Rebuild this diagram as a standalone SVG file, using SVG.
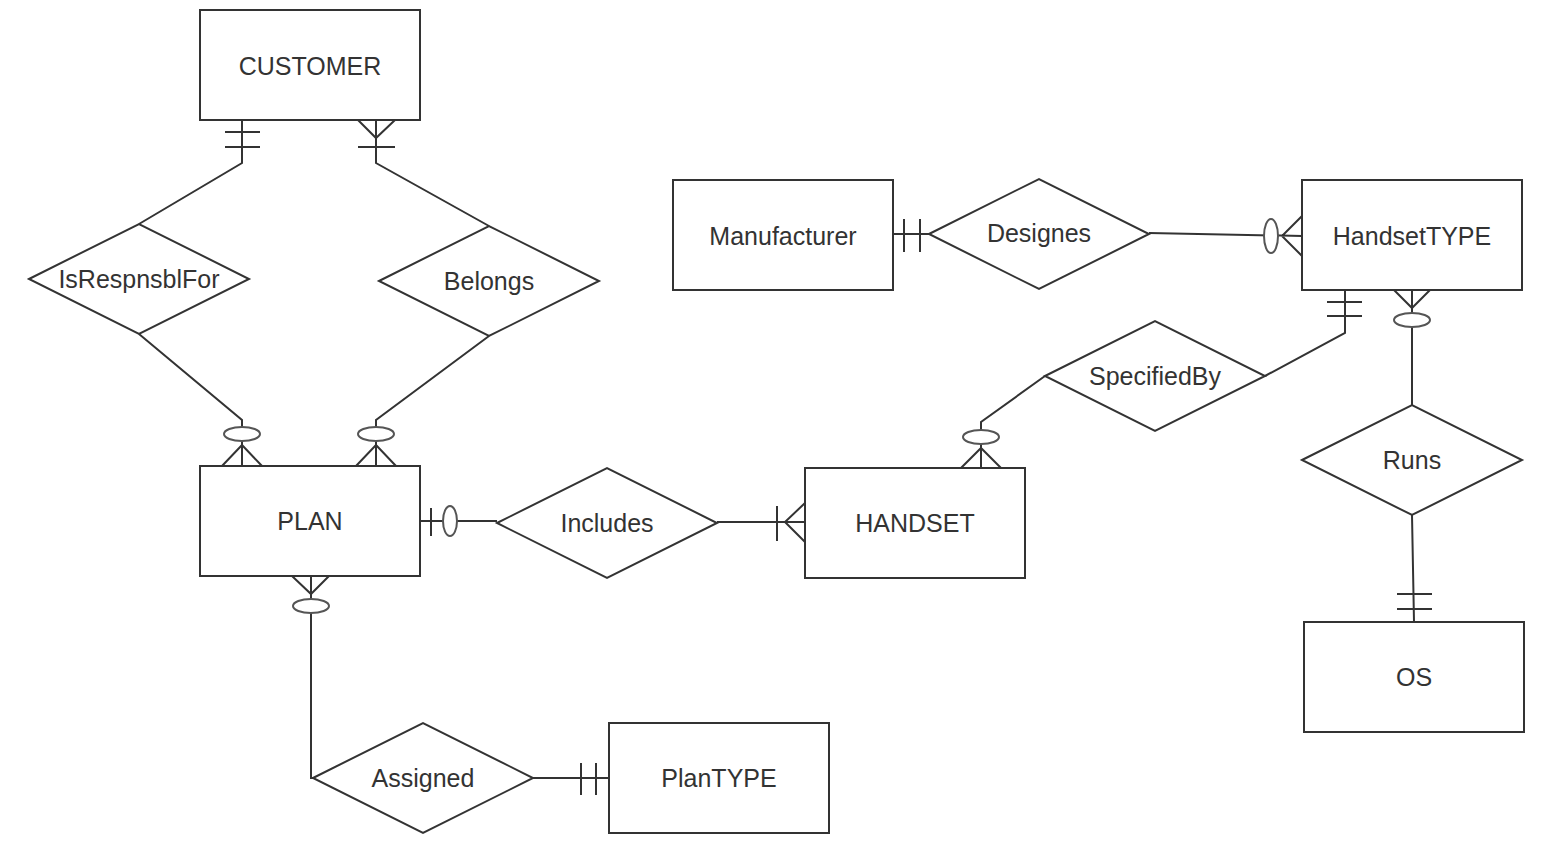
<svg xmlns="http://www.w3.org/2000/svg" width="1544" height="849" viewBox="0 0 1544 849">
<style>
.e{fill:#fff;stroke:#333;stroke-width:2}
.r{fill:#fff;stroke:#333;stroke-width:2}
.c{fill:none;stroke:#333;stroke-width:2}
.o{fill:#fff;stroke:#555;stroke-width:2}
text{font-family:"Liberation Sans",Arial,sans-serif;font-size:25px;fill:#333;text-anchor:middle;dominant-baseline:central}
</style>
<rect width="1544" height="849" fill="#fff"/>
<g id="connectors">
<!-- CUSTOMER - IsRespnsblFor -->
<path class="c" d="M242,120 V163 L139,224"/>
<path class="c" d="M225,132 H260 M225,147 H260"/>
<!-- IsRespnsblFor - PLAN -->
<path class="c" d="M139,334 L242,420 V466 M222,466 L242,445 L262,466"/>
<ellipse class="o" cx="242" cy="434" rx="18" ry="7"/>
<!-- CUSTOMER - Belongs -->
<path class="c" d="M376,120 V163 L489,226 M358,120 L376,138 L395,120 M358,147 H395"/>
<!-- Belongs - PLAN -->
<path class="c" d="M489,336 L376,420 V466 M356,466 L376,445 L396,466"/>
<ellipse class="o" cx="376" cy="434" rx="18" ry="7"/>
<!-- PLAN - Includes -->
<path class="c" d="M420,521 H497 M431,508 V536"/>
<ellipse class="o" cx="450" cy="521" rx="7" ry="15"/>
<!-- Includes - HANDSET -->
<path class="c" d="M717,522 H805 M777,506 V541 M805,503 L785,522 L805,542"/>
<!-- HANDSET - SpecifiedBy -->
<path class="c" d="M981,468 V422 L1045,376 M961,468 L981,448 L1001,468"/>
<ellipse class="o" cx="981" cy="437" rx="18" ry="7"/>
<!-- SpecifiedBy - HandsetTYPE -->
<path class="c" d="M1265,376 L1345,333 V290 M1327,302 H1362 M1327,316 H1362"/>
<!-- HandsetTYPE - Runs -->
<path class="c" d="M1412,405 V290 M1394,290 L1412,308 L1430,290"/>
<ellipse class="o" cx="1412" cy="320" rx="18" ry="7"/>
<!-- Runs - OS -->
<path class="c" d="M1412,515 L1414,622 M1397,594 H1432 M1397,609 H1432"/>
<!-- Manufacturer - Designes -->
<path class="c" d="M893,234 H929 M904,219 V252 M920,219 V252"/>
<!-- Designes - HandsetTYPE -->
<path class="c" d="M1149,233 L1302,236 M1302,216 L1282,236 L1302,256"/>
<ellipse class="o" cx="1271" cy="236" rx="7" ry="17"/>
<!-- PLAN - Assigned -->
<path class="c" d="M311,576 V778 L313,778 M292,576 L311,594 L329,576"/>
<ellipse class="o" cx="311" cy="606" rx="18" ry="7"/>
<!-- Assigned - PlanTYPE -->
<path class="c" d="M533,778 H609 M581,763 V795 M596,763 V795"/>
</g>
<g id="CUSTOMER"><rect class="r" x="200" y="10" width="220" height="110"/><text x="310" y="66">CUSTOMER</text></g>
<g id="Manufacturer"><rect class="r" x="673" y="180" width="220" height="110"/><text x="783" y="236">Manufacturer</text></g>
<g id="HandsetTYPE"><rect class="r" x="1302" y="180" width="220" height="110"/><text x="1412" y="236">HandsetTYPE</text></g>
<g id="PLAN"><rect class="r" x="200" y="466" width="220" height="110"/><text x="310" y="521">PLAN</text></g>
<g id="HANDSET"><rect class="r" x="805" y="468" width="220" height="110"/><text x="915" y="523">HANDSET</text></g>
<g id="OS"><rect class="r" x="1304" y="622" width="220" height="110"/><text x="1414" y="677">OS</text></g>
<g id="PlanTYPE"><rect class="r" x="609" y="723" width="220" height="110"/><text x="719" y="778">PlanTYPE</text></g>
<g id="IsRespnsblFor"><polygon class="e" points="29,279 139,224 249,279 139,334"/><text x="139" y="279">IsRespnsblFor</text></g>
<g id="Belongs"><polygon class="e" points="379,281 489,226 599,281 489,336"/><text x="489" y="281">Belongs</text></g>
<g id="Designes"><polygon class="e" points="929,234 1039,179 1149,234 1039,289"/><text x="1039" y="233">Designes</text></g>
<g id="SpecifiedBy"><polygon class="e" points="1045,376 1155,321 1265,376 1155,431"/><text x="1155" y="376">SpecifiedBy</text></g>
<g id="Includes"><polygon class="e" points="497,523 607,468 717,523 607,578"/><text x="607" y="523">Includes</text></g>
<g id="Runs"><polygon class="e" points="1302,460 1412,405 1522,460 1412,515"/><text x="1412" y="460">Runs</text></g>
<g id="Assigned"><polygon class="e" points="313,778 423,723 533,778 423,833"/><text x="423" y="778">Assigned</text></g>
</svg>
